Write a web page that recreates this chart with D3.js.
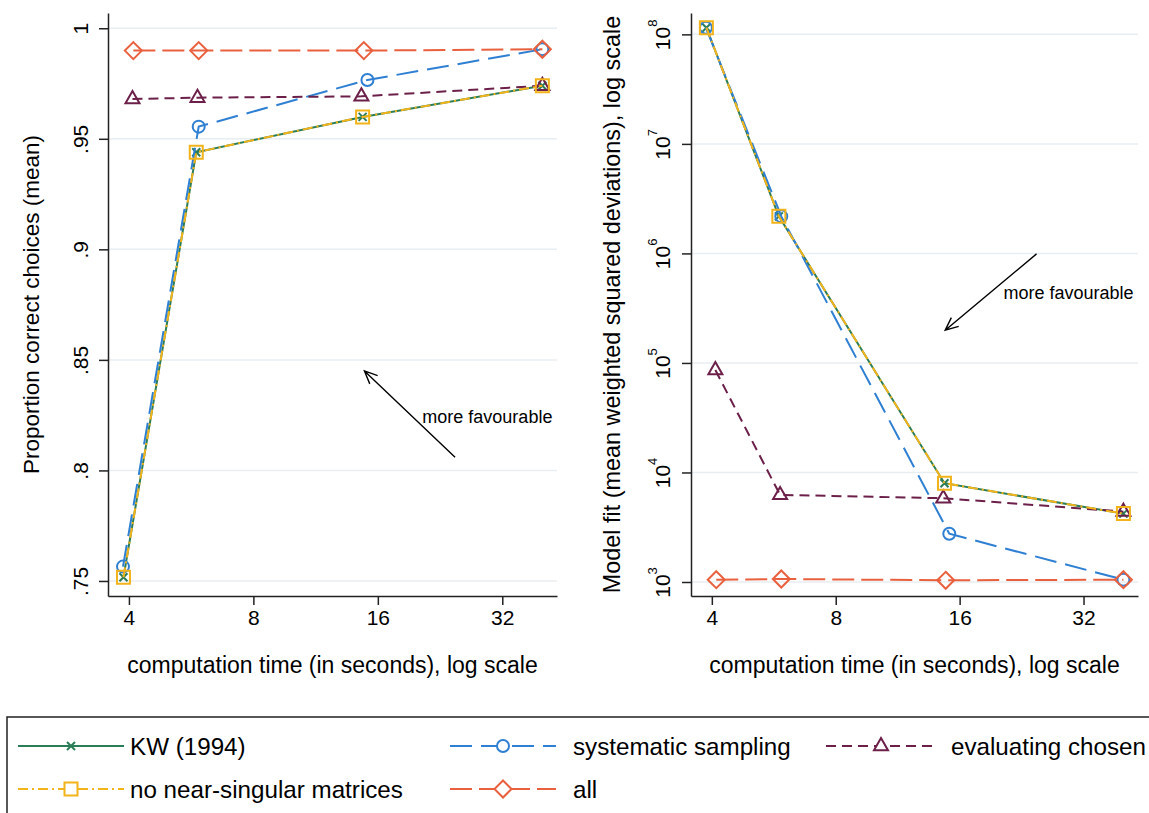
<!DOCTYPE html>
<html>
<head>
<meta charset="utf-8">
<script src="https://cdn.jsdelivr.net/npm/d3@7"></script>
<style>
  body { margin: 0; background: #fff; }
  svg { display: block; }
</style>
</head>
<body>
<div id="chart"></div>
<script>
// ---- data ----
const seriesNames = ['KW (1994)', 'systematic sampling', 'evaluating chosen', 'no near-singular matrices', 'all']

// computation time (seconds) per series
const timeKW = [3.88, 5.82, 14.7, 40]
const timeSystematic = [3.87, 5.9, 15.1, 40]
const timeEvaluating = [4.08, 5.86, 14.6, 40]
const timeNearSingular = [3.88, 5.82, 14.7, 40]
const timeAll = [4.1, 5.9, 14.8, 40]

// proportion correct choices (mean)
const propKW = [0.7517, 0.9439, 0.9599, 0.974]
const propSystematic = [0.7565, 0.9555, 0.9766, 0.9905]
const propEvaluating = [0.968, 0.9686, 0.9692, 0.974]
const propNearSingular = [0.7517, 0.9439, 0.9599, 0.974]
const propAll = [0.9899, 0.9899, 0.9899, 0.9905]

// model fit (mean weighted squared deviations)
const fitKW = [1.15e8, 2.18e6, 7980, 4210]
const fitSystematic = [1.15e8, 2.18e6, 2760, 1050]
const fitEvaluating = [86100, 6240, 5820, 4390]
const fitNearSingular = [1.15e8, 2.18e6, 7980, 4210]
const fitAll = [1050, 1065, 1036, 1050]

const xTicks = [4, 8, 16, 32]
const propTicks = [0.75, 0.8, 0.85, 0.9, 0.95, 1]
const propTickLabels = ['.75', '.8', '.85', '.9', '.95', '1']
const fitTicks = [1e3, 1e4, 1e5, 1e6, 1e7, 1e8]
const fitTickExponents = ['3', '4', '5', '6', '7', '8']

// "more favourable" annotations, in data units: [time, value]
const propArrowFrom = [24.6, 0.806]
const propArrowTo = [14.85, 0.845]
const propNotePos = [20.5, 0.8215]
const fitArrowFrom = [24.6, 9.9e5]
const fitArrowTo = [14.76, 1.99e5]
const fitNotePos = [20.45, 3.82e5]

// ---- styles ----
const FONT = "'Liberation Sans', Arial, Helvetica, sans-serif"
const GRID = '#e8eef2'
const STYLES = [
  { color: '#2a7d57', dash: null, marker: 'x' },
  { color: '#2f7fd2', dash: '22,9', marker: 'circle' },
  { color: '#6c2049', dash: '10,6', marker: 'triangle' },
  { color: '#f2b31b', dash: '10,4,2,4', marker: 'square' },
  { color: '#e9603e', dash: '22,7', marker: 'diamond' },
]

const times = [timeKW, timeSystematic, timeEvaluating, timeNearSingular, timeAll]
const props = [propKW, propSystematic, propEvaluating, propNearSingular, propAll]
const fits = [fitKW, fitSystematic, fitEvaluating, fitNearSingular, fitAll]

const markerPath = type => {
  switch (type) {
    case 'x':
      return 'M-4,-4L4,4M-4,4L4,-4'
    case 'circle':
      return 'M6,0A6,6 0 1,1 -6,0A6,6 0 1,1 6,0Z'
    case 'square':
      return 'M-6.5,-6.5H6.5V6.5H-6.5Z'
    case 'diamond':
      return 'M0,-8.5L8.5,0L0,8.5L-8.5,0Z'
    case 'triangle':
      return 'M0,-8L7,4.2L-7,4.2Z'
  }
}

const width = 1149
const height = 813

const svg = d3
  .select('#chart')
  .append('svg')
  .attr('width', width)
  .attr('height', height)
  .style('font-family', FONT)

const drawPanel = opts => {
  const { left, right, top, bottom, y, values, yTicks, yTitle, yTitleX } = opts
  const x = d3
    .scaleLog()
    .base(2)
    .domain([3.56, 43.4])
    .range([left, right])

  const g = svg.append('g')

  // gridlines
  g.selectAll('.grid')
    .data(yTicks)
    .join('line')
    .attr('x1', left)
    .attr('x2', right)
    .attr('y1', d => y(d))
    .attr('y2', d => y(d))
    .attr('stroke', GRID)
    .attr('stroke-width', 1.5)

  // y axis
  const yAxis = g
    .append('g')
    .attr('transform', `translate(${left},0)`)
    .call(
      d3
        .axisLeft(y)
        .tickValues(yTicks)
        .tickSizeInner(9)
        .tickSizeOuter(0)
    )
  yAxis.select('.domain').attr('stroke', '#222').attr('stroke-width', 1.5)
  yAxis.selectAll('.tick line').attr('stroke', '#222').attr('stroke-width', 1.5)
  opts.formatY(yAxis.selectAll('.tick text'))

  // x axis
  const xAxis = g
    .append('g')
    .attr('transform', `translate(0,${bottom})`)
    .call(
      d3
        .axisBottom(x)
        .tickValues(xTicks)
        .tickFormat(d3.format('d'))
        .tickSizeInner(9)
        .tickSizeOuter(0)
    )
  xAxis.select('.domain').attr('stroke', '#222').attr('stroke-width', 1.5)
  xAxis.selectAll('.tick line').attr('stroke', '#222').attr('stroke-width', 1.5)
  xAxis
    .selectAll('.tick text')
    .attr('y', 0)
    .attr('dy', 29)
    .attr('fill', '#000')
    .attr('font-family', FONT)
    .attr('font-size', 21)

  // titles
  g.append('text')
    .attr('x', (left + right) / 2)
    .attr('y', 673)
    .attr('text-anchor', 'middle')
    .attr('font-size', 23)
    .text('computation time (in seconds), log scale')

  g.append('text')
    .attr('transform', `translate(${yTitleX},${(top + bottom) / 2}) rotate(-90)`)
    .attr('text-anchor', 'middle')
    .attr('font-size', opts.yTitleSize)
    .text(yTitle)

  // series
  const line = d3
    .line()
    .x(d => x(d.t))
    .y(d => y(d.v))

  seriesNames.forEach((name, i) => {
    const pts = times[i].map((t, j) => ({ t, v: values[i][j] }))
    const st = STYLES[i]
    g.append('path')
      .datum(pts)
      .attr('d', line)
      .attr('fill', 'none')
      .attr('stroke', st.color)
      .attr('stroke-width', 2)
      .attr('stroke-dasharray', st.dash)
    g.selectAll(null)
      .data(pts)
      .join('path')
      .attr('transform', d => `translate(${x(d.t)},${y(d.v)})`)
      .attr('d', markerPath(st.marker))
      .attr('fill', 'none')
      .attr('stroke', st.color)
      .attr('stroke-width', 2)
  })

  // arrow annotation
  const [x1, y1] = [x(opts.arrowFrom[0]), y(opts.arrowFrom[1])]
  const [x2, y2] = [x(opts.arrowTo[0]), y(opts.arrowTo[1])]
  const ang = Math.atan2(y2 - y1, x2 - x1)
  const head = 14
  const spread = 0.42
  g.append('path')
    .attr(
      'd',
      `M${x1},${y1}L${x2},${y2}` +
        `M${x2 - head * Math.cos(ang - spread)},${y2 - head * Math.sin(ang - spread)}` +
        `L${x2},${y2}` +
        `L${x2 - head * Math.cos(ang + spread)},${y2 - head * Math.sin(ang + spread)}`
    )
    .attr('fill', 'none')
    .attr('stroke', '#000')
    .attr('stroke-width', 1.4)

  g.append('text')
    .attr('x', x(opts.notePos[0]))
    .attr('y', y(opts.notePos[1]))
    .attr('font-size', 18)
    .text('more favourable')
}

// left panel: proportion correct
drawPanel({
  left: 108,
  right: 557,
  top: 13,
  bottom: 596,
  y: d3.scaleLinear().domain([0.7432, 1.0069]).range([596, 13]),
  values: props,
  yTicks: propTicks,
  yTitle: 'Proportion correct choices (mean)',
  yTitleX: 39,
  yTitleSize: 22.5,
  arrowFrom: propArrowFrom,
  arrowTo: propArrowTo,
  notePos: propNotePos,
  formatY: sel =>
    sel
      .text((d, i) => propTickLabels[i])
      .attr('transform', 'rotate(-90)')
      .attr('x', 0)
      .attr('y', -20)
      .attr('dy', 0)
      .attr('text-anchor', 'middle')
      .attr('fill', '#000')
      .attr('font-family', FONT)
      .attr('font-size', 21),
})

// right panel: model fit
drawPanel({
  left: 691,
  right: 1138,
  top: 13,
  bottom: 596,
  y: d3.scaleLog().domain([745, 1.567e8]).range([596, 13]),
  values: fits,
  yTicks: fitTicks,
  yTitle: 'Model fit (mean weighted squared deviations), log scale',
  yTitleX: 620,
  yTitleSize: 23.4,
  arrowFrom: fitArrowFrom,
  arrowTo: fitArrowTo,
  notePos: fitNotePos,
  formatY: sel => {
    sel
      .text('')
      .attr('transform', 'rotate(-90)')
      .attr('x', 0)
      .attr('y', -21)
      .attr('dy', 0)
      .attr('text-anchor', 'middle')
      .attr('fill', '#000')
      .attr('font-family', FONT)
      .attr('font-size', 21)
    sel.append('tspan').text('10')
    sel
      .append('tspan')
      .attr('dy', -13)
      .attr('font-size', 13)
      .text((d, i) => fitTickExponents[i])
  },
})

// ---- legend ----
const legendCols = [
  { x1: 18, x2: 124, tx: 130 },
  { x1: 450, x2: 556, tx: 573 },
  { x1: 826, x2: 936, tx: 951 },
]
const legendRows = [746, 789]
const legendOrder = [0, 1, 2, 3, 4]

svg
  .append('rect')
  .attr('x', 7)
  .attr('y', 717)
  .attr('width', 1200)
  .attr('height', 200)
  .attr('fill', 'none')
  .attr('stroke', '#222')
  .attr('stroke-width', 1.5)

legendOrder.forEach((si, k) => {
  const col = legendCols[k % 3]
  const ry = legendRows[Math.floor(k / 3)]
  const st = STYLES[si]
  const lg = svg.append('g')
  lg.append('line')
    .attr('x1', col.x1)
    .attr('x2', col.x2)
    .attr('y1', ry)
    .attr('y2', ry)
    .attr('stroke', st.color)
    .attr('stroke-width', 2)
    .attr('stroke-dasharray', st.dash)
  lg.append('path')
    .attr('transform', `translate(${(col.x1 + col.x2) / 2},${ry})`)
    .attr('d', markerPath(st.marker))
    .attr('fill', st.marker === 'x' ? 'none' : '#fff')
    .attr('stroke', st.color)
    .attr('stroke-width', 2)
  lg.append('text')
    .attr('x', col.tx)
    .attr('y', ry + 8.5)
    .attr('font-size', 24.2)
    .text(seriesNames[si])
})
</script>
</body>
</html>
